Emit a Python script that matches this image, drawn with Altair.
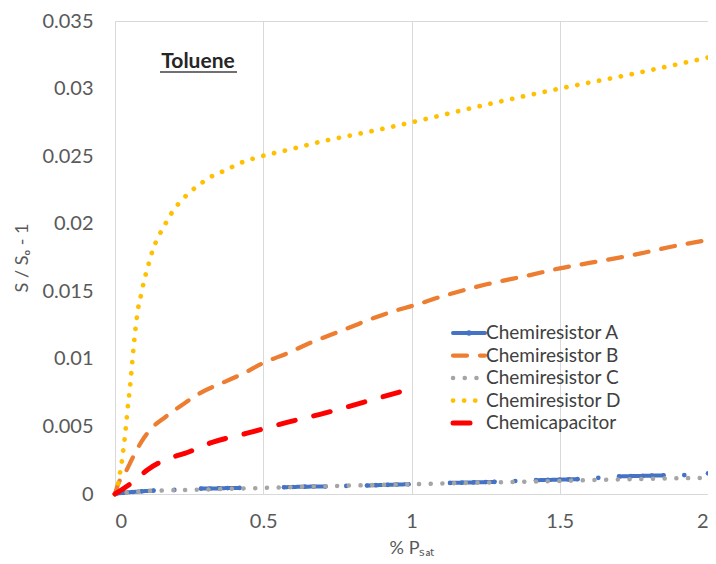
import altair as alt
import pandas as pd

FONT = "Lato"

names = ["Chemiresistor A", "Chemiresistor B", "Chemiresistor C",
         "Chemiresistor D", "Chemicapacitor"]
colors = ["#4472C4", "#ED7D31", "#A5A5A5", "#FFC000", "#FF0000"]
dashes = [[1, 0], [14, 13], [0.1, 11.6], [0.1, 11], [17, 19]]
widths = [4, 5, 4, 5.5, 6]

x_ticks = [0, 0.5, 1, 1.5, 2]
y_ticks = [0, 0.005, 0.01, 0.015, 0.02, 0.025, 0.03, 0.035]

# Chemiresistor A (line with markers, gaps between clusters)
a_x = [0, 0.03, 0.06, 0.09, 0.13,
       0.2,
       0.29, 0.32, 0.35, 0.38, 0.42,
       0.57, 0.6, 0.64, 0.67, 0.71,
       0.78,
       0.85, 0.88, 0.92, 0.95, 0.99,
       1.13, 1.17, 1.21, 1.25, 1.28,
       1.35,
       1.42, 1.46, 1.5, 1.53, 1.56,
       1.63,
       1.70, 1.74, 1.78, 1.81, 1.85,
       1.92,
       2.0]
a_y = [0, 0.0001, 0.00015, 0.0002, 0.00025,
       0.0003,
       0.0004, 0.0004, 0.00042, 0.00044, 0.00045,
       0.0005, 0.00052, 0.00054, 0.00055, 0.00056,
       0.0006,
       0.00063, 0.00065, 0.00068, 0.0007, 0.00072,
       0.00082, 0.00084, 0.00086, 0.00088, 0.0009,
       0.00096,
       0.00102, 0.00104, 0.00106, 0.00108, 0.0011,
       0.0012,
       0.0013, 0.00132, 0.00134, 0.00136, 0.00138,
       0.0014,
       0.00153]
a_grp = [0] * 5 + [1] + [2] * 5 + [3] * 5 + [4] + [5] * 5 + [6] * 5 + [7] + \
        [8] * 5 + [9] + [10] * 5 + [11] + [12]

# Chemiresistor B
b_x = [0, 0.01, 0.035, 0.06, 0.09, 0.125, 0.17, 0.22, 0.29, 0.37, 0.44, 0.5,
       0.58, 0.66, 0.73, 0.8, 0.87, 0.95, 1.0, 1.1, 1.25, 1.4, 1.5, 1.6,
       1.75, 1.9, 2.0]
b_y = [0, 0.0007, 0.0016, 0.0027, 0.0039, 0.0049, 0.0057, 0.0065, 0.0075,
       0.0083, 0.009, 0.0097, 0.0104, 0.0112, 0.0118, 0.0124, 0.013, 0.0136,
       0.0139, 0.0146, 0.0155, 0.0162, 0.0167, 0.0171, 0.0177, 0.0184, 0.0188]

# Chemiresistor C
c_x = [0, 0.1, 0.25, 0.5, 0.75, 1.0, 1.25, 1.5, 1.75, 2.0]
c_y = [0, 0.0002, 0.0003, 0.00045, 0.0006, 0.00072, 0.00085, 0.00097,
       0.0011, 0.0012]

# Chemiresistor D
d_x = [0, 0.01, 0.017, 0.023, 0.03, 0.037, 0.043, 0.05, 0.056, 0.062, 0.07,
       0.08, 0.09, 0.097, 0.107, 0.117, 0.128, 0.143, 0.16, 0.178, 0.2,
       0.224, 0.25, 0.28, 0.31, 0.345, 0.378, 0.412, 0.48, 0.59, 0.7, 0.81,
       0.92, 1.0, 1.25, 1.5, 1.75, 2.0]
d_y = [0, 0.0007, 0.0016, 0.0024, 0.0036, 0.005, 0.0064, 0.0078, 0.0092,
       0.0107, 0.0124, 0.014, 0.0149, 0.0157, 0.0165, 0.0173, 0.0181, 0.0189,
       0.0196, 0.0203, 0.0211, 0.0217, 0.0223, 0.0228, 0.0233, 0.0237, 0.024,
       0.0244, 0.0249, 0.0255, 0.0261, 0.0266, 0.0271, 0.0275, 0.0288, 0.030,
       0.0311, 0.0323]

# Chemicapacitor
e_x = [0, 0.067, 0.11, 0.19, 0.235, 0.325, 0.446, 0.58, 0.71, 0.84, 1.0]
e_y = [0, 0.001, 0.0018, 0.0027, 0.003, 0.0038, 0.0045, 0.0053, 0.006,
       0.0068, 0.0078]

rows = []
for x, y, g in zip(a_x, a_y, a_grp):
    rows.append({"series": names[0], "x": x, "y": y, "grp": g})
for nm, xs, ys in [(names[1], b_x, b_y), (names[2], c_x, c_y),
                   (names[3], d_x, d_y), (names[4], e_x, e_y)]:
    for x, y in zip(xs, ys):
        rows.append({"series": nm, "x": x, "y": y, "grp": 0})
df = pd.DataFrame(rows)
leg_df = pd.DataFrame({"series": names})
title_df = pd.DataFrame({"t": ["Toluene"]})

color = alt.Color("series:N", scale=alt.Scale(domain=names, range=colors), legend=None)
dash = alt.StrokeDash("series:N", scale=alt.Scale(domain=names, range=dashes), legend=None)
sw = alt.StrokeWidth("series:N", scale=alt.Scale(domain=names, range=widths), legend=None)

xenc = alt.X("x:Q", scale=alt.Scale(domain=[0, 2], nice=False),
             axis=alt.Axis(values=x_ticks, format="~g", title="% Pₛₐₜ",
                           labelPadding=17, titlePadding=8))
yenc = alt.Y("y:Q", scale=alt.Scale(domain=[0, 0.035], nice=False),
             axis=alt.Axis(values=y_ticks, format="~g", title="S / Sₒ - 1",
                           labelPadding=22, titlePadding=10))

markers = alt.Chart(df[df.series == names[0]]).mark_circle(size=22, opacity=1).encode(
    x="x:Q",
    y=alt.Y("y:Q", scale=alt.Scale(domain=[0, 0.035], nice=False), axis=None),
    color=color,
)

lines = alt.Chart(df).mark_line(strokeCap="round", interpolate="monotone").encode(
    x=xenc, y=yenc, color=color, strokeDash=dash, strokeWidth=sw, detail="grp:N"
)

leg_y = alt.Y("series:N",
              scale=alt.Scale(type="point", domain=names, range=[312, 402], padding=0),
              axis=None)
leg_rules = alt.Chart(leg_df).mark_rule(strokeCap="round").encode(
    x=alt.value(338), x2=alt.value(370), y=leg_y,
    color=color, strokeDash=dash, strokeWidth=sw,
)
leg_marker = alt.Chart(leg_df[leg_df.series == names[0]]).mark_circle(size=30, opacity=1).encode(
    x=alt.value(354), y=leg_y, color=color
)
leg_text = alt.Chart(leg_df).mark_text(align="left", baseline="middle", font=FONT,
                                       fontSize=19, color="#404040").encode(
    x=alt.value(371), y=leg_y, text="series:N"
)

title_txt = alt.Chart(title_df).mark_text(font=FONT, fontSize=21, fontWeight="bold",
                                          color="#262626", baseline="middle").encode(
    x=alt.value(83), y=alt.value(41), text="t:N"
)
title_line = alt.Chart(title_df).mark_rule(color="#404040", strokeWidth=1.5).encode(
    x=alt.value(45), x2=alt.value(122), y=alt.value(51)
)

chart = alt.layer(
    markers, lines, leg_rules, leg_marker, leg_text, title_txt, title_line
).resolve_scale(y="independent").properties(
    width=593, height=473,
    autosize=alt.AutoSizeParams(type="none"),
    padding={"left": 107, "top": 13, "right": 0, "bottom": 69},
    background="white",
).configure_view(
    stroke="#D9D9D9", strokeWidth=1
).configure_axis(
    labelFont=FONT, titleFont=FONT, labelFontSize=20, titleFontSize=18,
    labelColor="#595959", titleColor="#595959", titleFontWeight="normal",
    gridColor="#D9D9D9", gridWidth=1, domain=False, ticks=False, tickSize=0,
)

chart.save("out.html", embed_options={"renderer": "svg", "actions": False})
